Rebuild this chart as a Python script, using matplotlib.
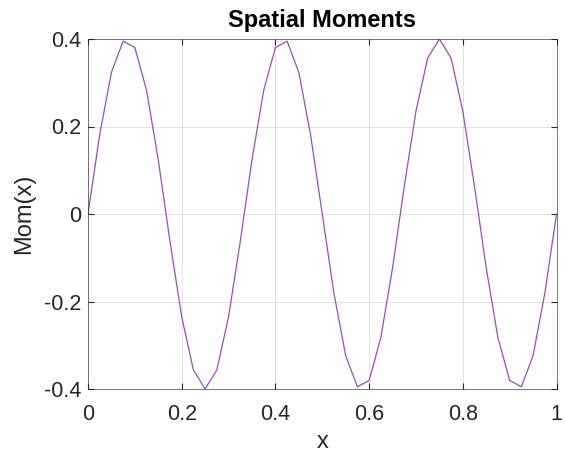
import matplotlib
matplotlib.use("Agg")
import matplotlib.pyplot as plt

x = [0.0, 0.025, 0.05, 0.075, 0.1, 0.125, 0.15, 0.175, 0.2, 0.225,
     0.25, 0.275, 0.3, 0.325, 0.35, 0.375, 0.4, 0.425, 0.45, 0.475,
     0.5, 0.525, 0.55, 0.575, 0.6, 0.625, 0.65, 0.675, 0.7, 0.725,
     0.75, 0.775, 0.8, 0.825, 0.85, 0.875, 0.9, 0.925, 0.95, 0.975, 1.0]
mom = [0.0, 0.1816, 0.3236, 0.3951, 0.3804, 0.2828, 0.1236, -0.0626, -0.2351, -0.3564,
       -0.4, -0.3564, -0.2351, -0.0626, 0.1236, 0.2828, 0.3804, 0.3951, 0.3236, 0.1816,
       0.0, -0.1816, -0.3236, -0.3951, -0.3804, -0.2828, -0.1236, 0.0626, 0.2351, 0.3564,
       0.4, 0.3564, 0.2351, 0.0626, -0.1236, -0.2828, -0.3804, -0.3951, -0.3236, -0.1816, 0.0]
xticks = [0, 0.2, 0.4, 0.6, 0.8, 1]
xticklabels = ["0", "0.2", "0.4", "0.6", "0.8", "1"]
yticks = [-0.4, -0.2, 0, 0.2, 0.4]
yticklabels = ["-0.4", "-0.2", "0", "0.2", "0.4"]

plt.rcParams['font.family'] = ['Liberation Sans', 'DejaVu Sans']

fig = plt.figure(figsize=(5.65, 4.58), dpi=100)
ax = fig.add_axes([88/565, 69/458, 468.5/565, 350/458])
ax.plot(x, mom, color=(0.58, 0.32, 0.67), linewidth=0.9)
ax.set_xlim(0, 1)
ax.set_ylim(-0.4, 0.4)
ax.set_xticks(xticks)
ax.set_xticklabels(xticklabels)
ax.set_yticks(yticks)
ax.set_yticklabels(yticklabels)
ax.tick_params(direction='in', top=True, right=True, labelsize=15.5,
               colors=(0.15, 0.15, 0.15), length=4, width=0.8, pad=5)
ax.tick_params(axis='x', pad=11)
for s in ax.spines.values():
    s.set_color((0.15, 0.15, 0.15))
    s.set_linewidth(0.6)
    s.set_alpha(0.7)
ax.grid(True, color=(0.15, 0.15, 0.15), alpha=0.15, linewidth=0.6)
ax.set_axisbelow(True)
ax.set_title("Spatial Moments", fontsize=17, fontweight='bold', pad=9)
ax.set_xlabel("x", fontsize=17, color=(0.15, 0.15, 0.15), labelpad=4)
ax.set_ylabel("Mom(x)", fontsize=17, color=(0.15, 0.15, 0.15), labelpad=6)
fig.savefig("out.png", dpi=100)
